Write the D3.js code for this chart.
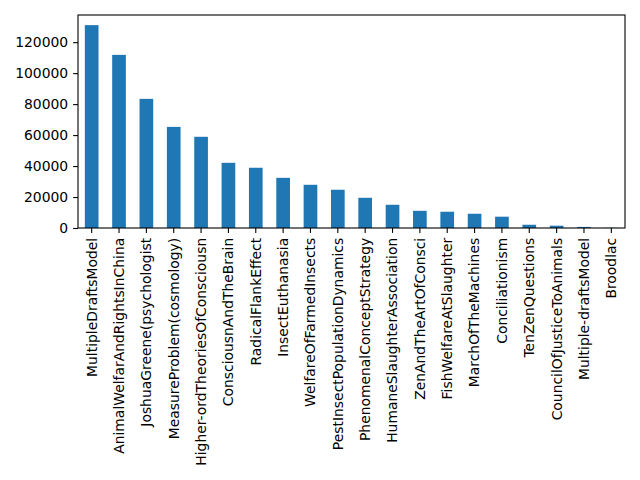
<!DOCTYPE html>
<html>
<head>
<meta charset="utf-8">
<script src="https://cdn.jsdelivr.net/npm/d3@7"></script>
<style>
  body { margin: 0; background: #fff; }
  svg text { font-family: "DejaVu Sans", sans-serif; font-size: 13.9px; fill: #000; }
</style>
</head>
<body>
<div class="chart"></div>
<script>
const categories = [
  'MultipleDraftsModel', 'AnimalWelfarAndRightsInChina', 'JoshuaGreene(psychologist',
  'MeasureProblem(cosmology)', 'Higher-ordTheoriesOfConsciousn', 'ConsciousnAndTheBrain',
  'RadicalFlankEffect', 'InsectEuthanasia', 'WelfareOfFarmedInsects',
  'PestInsectPopulationDynamics', 'PhenomenalConceptStrategy', 'HumaneSlaughterAssociation',
  'ZenAndTheArtOfConsci', 'FishWelfareAtSlaughter', 'MarchOfTheMachines',
  'Conciliationism', 'TenZenQuestions', 'CouncilOfJusticeToAnimals',
  'Multiple-draftsModel', 'Broodlac'
]
const values = [
  131000, 111800, 83400, 65300, 58900, 42100, 38900, 32400, 27900,
  24700, 19500, 15000, 11100, 10500, 9200, 7300, 2100, 1500, 700, 100
]
const yTicks = [0, 20000, 40000, 60000, 80000, 100000, 120000]

const W = 640, H = 480
const mLeft = 78, mRight = 625, mTop = 15, mBottom = 228

const svg = d3.select('.chart')
  .append('svg')
    .attr('width', W)
    .attr('height', H)

const x = d3.scaleBand()
  .domain(categories)
  .range([mLeft, mRight])
  .paddingInner(0.5)
  .paddingOuter(0.25)

const y = d3.scaleLinear()
  .domain([0, 137550])
  .range([mBottom, mTop])

//bars
svg.append('g')
  .selectAll('rect')
  .data(values)
  .enter().append('rect')
    .attr('x', (d, i) => x(categories[i]))
    .attr('y', d => y(d))
    .attr('width', x.bandwidth())
    .attr('height', d => y(0) - y(d))
    .style('fill', '#1f77b4')

//axes
const yAxis = svg.append('g')
  .attr('transform', `translate(${mLeft},0)`)
  .call(d3.axisLeft(y).tickValues(yTicks).tickFormat(d3.format('d')).tickSize(4.9).tickPadding(4.9))

const xAxis = svg.append('g')
  .attr('transform', `translate(0,${mBottom})`)
  .call(d3.axisBottom(x).tickSize(4.9).tickPadding(4.9))

xAxis.selectAll('text')
  .attr('transform', 'rotate(-90)')
  .attr('text-anchor', 'end')
  .attr('x', -9.8)
  .attr('y', 0)
  .attr('dy', '0.35em')

svg.selectAll('.domain').remove()
svg.selectAll('.tick line').attr('stroke', '#000').attr('stroke-width', 1.1)
svg.selectAll('.tick text').style('font-family', '"DejaVu Sans", sans-serif').style('font-size', '13.9px')

//frame
svg.append('rect')
  .attr('x', mLeft)
  .attr('y', mTop)
  .attr('width', mRight - mLeft)
  .attr('height', mBottom - mTop)
  .attr('fill', 'none')
  .attr('stroke', '#000')
  .attr('stroke-width', 1.1)
</script>
</body>
</html>
